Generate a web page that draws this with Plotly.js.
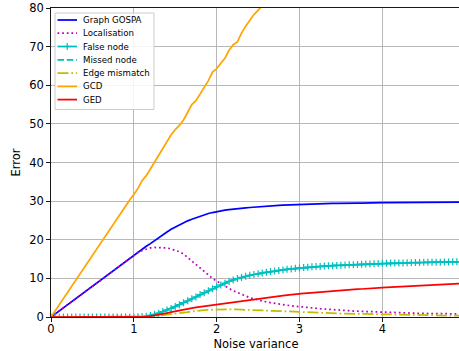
<!DOCTYPE html>
<html>
<head>
<meta charset="utf-8">
<script src="https://cdn.plot.ly/plotly-3.0.1.min.js"></script>
<style>
html, body { margin: 0; padding: 0; overflow: hidden; background: #ffffff; }
#chart { width: 472px; height: 351px; }
</style>
</head>
<body>
<div id="chart"></div>
<script>
// ---- data ----
const noiseVariance = [0,0.05,0.1,0.15,0.2,0.25,0.3,0.35,0.4,0.45,0.5,0.55,0.6,0.65,0.7,0.75,0.8,0.85,0.9,0.95,
  1.0,1.05,1.1,1.15,1.2,1.25,1.3,1.35,1.4,1.45,1.5,1.55,1.6,1.65,1.7,1.75,1.8,1.85,1.9,1.95,
  2.0,2.05,2.1,2.15,2.2,2.25,2.3,2.35,2.4,2.45,2.5,2.55,2.6,2.65,2.7,2.75,2.8,2.85,2.9,2.95,
  3.0,3.05,3.1,3.15,3.2,3.25,3.3,3.35,3.4,3.45,3.5,3.55,3.6,3.65,3.7,3.75,3.8,3.85,3.9,3.95,
  4.0,4.05,4.1,4.15,4.2,4.25,4.3,4.35,4.4,4.45,4.5,4.55,4.6,4.65,4.7,4.75,4.8,4.85,4.9,4.95];

const graphGOSPA = [0,0.8,1.6,2.4,3.2,4.0,4.8,5.6,6.4,7.3,8.0,8.8,9.6,10.4,11.2,12.0,12.8,13.7,14.4,15.2,
  16.0,16.8,17.6,18.3,19.0,19.8,20.5,21.3,22.0,22.7,23.3,23.8,24.4,24.9,25.3,25.7,26.1,26.5,26.8,27.05,
  27.3,27.5,27.65,27.8,27.95,28.05,28.15,28.25,28.35,28.45,28.55,28.6,28.7,28.75,28.8,28.9,28.95,29.0,29.05,29.1,
  29.2,29.2,29.25,29.3,29.3,29.35,29.35,29.4,29.4,29.4,29.45,29.45,29.5,29.5,29.5,29.5,29.55,29.55,29.6,29.55,
  29.6,29.6,29.6,29.6,29.65,29.6,29.65,29.65,29.7,29.65,29.7,29.7,29.7,29.7,29.7,29.75,29.7,29.75,29.7,29.75];

const localisation = [0,0.8,1.6,2.4,3.2,4.0,4.8,5.6,6.4,7.3,8.0,8.8,9.6,10.4,11.2,12.0,12.8,13.7,14.4,15.2,
  16.0,16.7,17.2,17.6,17.9,18.0,18.0,18.0,17.9,17.6,17.3,16.9,16.3,15.4,14.5,13.5,12.5,11.6,10.7,10.0,
  9.3,8.6,8.0,7.4,6.8,6.3,5.8,5.4,5.0,4.7,4.4,4.1,3.9,3.7,3.5,3.3,3.15,3.0,2.9,2.8,
  2.65,2.55,2.45,2.35,2.25,2.15,2.05,1.95,1.9,1.8,1.75,1.7,1.6,1.55,1.5,1.45,1.4,1.35,1.3,1.25,
  1.2,1.15,1.12,1.1,1.06,1.04,1.0,0.98,0.96,0.94,0.92,0.9,0.88,0.86,0.85,0.84,0.82,0.81,0.8,0.8];

const falseNode = [0,0,0,0,0,0,0,0,0,0,0,0,0,0,0,0,0,0,0,0,
  0,0.05,0.1,0.2,0.4,0.7,1.0,1.4,1.8,2.2,2.7,3.2,3.7,4.2,4.7,5.2,5.8,6.3,6.8,7.3,
  7.85,8.3,8.75,9.2,9.6,9.95,10.25,10.55,10.8,11.0,11.2,11.4,11.6,11.75,11.9,12.05,12.2,12.35,12.45,12.6,
  12.7,12.8,12.9,13.0,13.05,13.1,13.2,13.25,13.3,13.35,13.4,13.45,13.5,13.55,13.6,13.65,13.7,13.75,13.8,13.85,
  13.9,13.9,13.95,13.95,14.0,14.0,14.05,14.05,14.1,14.1,14.15,14.15,14.2,14.2,14.2,14.25,14.25,14.3,14.3,14.3];

const missedNode = [0,0,0,0,0,0,0,0,0,0,0,0,0,0,0,0,0,0,0,0,
  0,0.05,0.1,0.2,0.4,0.7,1.0,1.4,1.8,2.2,2.7,3.2,3.7,4.2,4.7,5.2,5.8,6.3,6.8,7.3,
  7.85,8.3,8.75,9.2,9.6,9.95,10.25,10.55,10.8,11.0,11.2,11.4,11.6,11.75,11.9,12.05,12.2,12.35,12.45,12.6,
  12.7,12.8,12.9,13.0,13.05,13.1,13.2,13.25,13.3,13.35,13.4,13.45,13.5,13.55,13.6,13.65,13.7,13.75,13.8,13.85,
  13.9,13.9,13.95,13.95,14.0,14.0,14.05,14.05,14.1,14.1,14.15,14.15,14.2,14.2,14.2,14.25,14.25,14.3,14.3,14.3];

const edgeMismatch = [0,0,0,0,0,0,0,0,0,0,0,0,0,0,0,0,0,0,0,0,
  0,0,0.02,0.05,0.1,0.2,0.3,0.4,0.55,0.7,0.85,1.0,1.15,1.3,1.45,1.6,1.7,1.8,1.85,1.9,
  1.95,2.0,2.0,2.0,2.0,1.95,1.9,1.9,1.85,1.8,1.75,1.7,1.65,1.6,1.55,1.5,1.45,1.4,1.35,1.3,
  1.25,1.2,1.15,1.12,1.1,1.05,1.0,0.98,0.95,0.92,0.9,0.87,0.85,0.82,0.8,0.75,0.72,0.7,0.67,0.65,
  0.62,0.6,0.58,0.56,0.54,0.52,0.5,0.48,0.46,0.45,0.43,0.42,0.4,0.38,0.37,0.36,0.35,0.34,0.33,0.32];

const gcd = [0,1.6,3.3,4.9,6.5,8.1,9.6,11.2,12.9,14.4,16.0,17.6,19.2,20.9,22.4,24.1,25.6,27.2,28.8,30.3,
  31.7,33.3,35.3,36.6,38.3,40.1,41.9,43.6,45.5,47.2,48.5,49.6,51.0,53.0,55.0,56.0,57.8,59.3,61.2,63.4,
  64.3,65.7,67.0,69.1,70.5,71.2,73.5,75.3,76.8,78.3,79.4,80.6,82.2];

const ged = [0,0,0,0,0,0,0,0,0,0,0,0,0,0,0,0,0,0,0,0,
  0,0,0.02,0.1,0.25,0.4,0.6,0.8,1.0,1.25,1.5,1.7,1.9,2.1,2.3,2.5,2.65,2.8,3.0,3.15,
  3.3,3.45,3.6,3.75,3.9,4.05,4.2,4.35,4.5,4.65,4.8,4.9,5.05,5.2,5.3,5.45,5.55,5.65,5.8,5.9,
  6.0,6.1,6.2,6.3,6.4,6.5,6.6,6.65,6.75,6.8,6.9,6.95,7.05,7.1,7.2,7.25,7.35,7.4,7.45,7.55,
  7.6,7.65,7.7,7.75,7.85,7.9,7.95,8.0,8.05,8.1,8.15,8.25,8.3,8.35,8.4,8.45,8.5,8.6,8.65,8.7];

const seriesNames = ['Graph GOSPA', 'Localisation', 'False node', 'Missed node', 'Edge mismatch', 'GCD', 'GED'];
const xTickVals = [0, 1, 2, 3, 4];
const yTickVals = [0, 10, 20, 30, 40, 50, 60, 70, 80];

// ---- styles ----
const LW = 1.75;
const styles = [
  {color: '#0000ff', dash: 'solid'},
  {color: '#bf00bf', dash: '1.75px,2.9px'},
  {color: '#00bfbf', dash: 'solid', marker: true},
  {color: '#00bfbf', dash: '6.5px,2.8px'},
  {color: '#bfbf00', dash: '11px,2.8px,1.75px,2.8px'},
  {color: '#ffa500', dash: 'solid'},
  {color: '#ff0000', dash: 'solid'}
];
const seriesY = [graphGOSPA, localisation, falseNode, missedNode, edgeMismatch, gcd, ged];

const traces = seriesY.map(function (ys, i) {
  const st = styles[i];
  const t = {
    x: noiseVariance.slice(0, ys.length),
    y: ys,
    name: seriesNames[i],
    type: 'scatter',
    mode: st.marker ? 'lines+markers' : 'lines',
    line: {color: st.color, width: LW, dash: st.dash},
    hoverinfo: 'skip'
  };
  if (st.marker) {
    t.marker = {symbol: 'cross-thin', size: 5, color: st.color, line: {color: st.color, width: 1.2}};
  }
  return t;
});

// ---- layout geometry ----
const W = 472, H = 351;
const M = {l: 51, r: 11, t: 8, b: 34};
const PW = W - M.l - M.r, PH = H - M.t - M.b;
function px2x(px) { return (px - M.l) / PW; }
function px2y(py) { return 1 - (py - M.t) / PH; }

// custom legend (matplotlib style)
const shapes = [];
const annotations = [];
shapes.push({type: 'rect', xref: 'paper', yref: 'paper',
  x0: px2x(55), x1: px2x(154), y0: px2y(109.5), y1: px2y(13),
  fillcolor: 'rgba(255,255,255,0.85)', line: {color: '#cccccc', width: 1}, layer: 'above'});
const legendRowY = [20, 33.2, 46.5, 59.8, 73.1, 86.4, 99.6];
seriesNames.forEach(function (nm, i) {
  const st = styles[i];
  const yy = px2y(legendRowY[i]);
  shapes.push({type: 'line', xref: 'paper', yref: 'paper',
    x0: px2x(57.5), x1: px2x(77), y0: yy, y1: yy,
    line: {color: st.color, width: LW, dash: st.dash}, layer: 'above'});
  if (st.marker) {
    shapes.push({type: 'line', xref: 'paper', yref: 'paper',
      x0: px2x(67.2), x1: px2x(67.2), y0: px2y(legendRowY[i] - 3.5), y1: px2y(legendRowY[i] + 3.5),
      line: {color: st.color, width: 1.2}, layer: 'above'});
    shapes.push({type: 'line', xref: 'paper', yref: 'paper',
      x0: px2x(63.7), x1: px2x(70.7), y0: yy, y1: yy,
      line: {color: st.color, width: 1.2}, layer: 'above'});
  }
  annotations.push({xref: 'paper', yref: 'paper', x: px2x(82), y: yy,
    xanchor: 'left', yanchor: 'middle', text: nm, showarrow: false,
    font: {family: 'DejaVu Sans', size: 8.6, color: '#000000'}, borderpad: 0});
});

const axisCommon = {
  showline: true, linecolor: '#000000', linewidth: 0.9, mirror: true,
  ticks: 'outside', ticklen: 4, tickwidth: 0.9, tickcolor: '#000000',
  showgrid: true, gridcolor: '#b0b0b0', gridwidth: 0.9,
  zeroline: false,
  tickfont: {family: 'DejaVu Sans', size: 11.5, color: '#000000'}
};

const layout = {
  width: W, height: H,
  margin: M,
  paper_bgcolor: '#ffffff', plot_bgcolor: '#ffffff',
  showlegend: false,
  xaxis: Object.assign({}, axisCommon, {
    range: [0, 4.95], tickvals: xTickVals, ticktext: xTickVals.map(String),
    ticklabelstandoff: -3,
    title: {text: 'Noise variance', font: {family: 'DejaVu Sans', size: 11.5, color: '#000000'}, standoff: 7}
  }),
  yaxis: Object.assign({}, axisCommon, {
    range: [0, 80], tickvals: yTickVals, ticktext: yTickVals.map(String),
    title: {text: 'Error', font: {family: 'DejaVu Sans', size: 11.5, color: '#000000'}, standoff: 6}
  }),
  shapes: shapes,
  annotations: annotations
};

Plotly.newPlot('chart', traces, layout, {staticPlot: true, displayModeBar: false});
</script>
</body>
</html>
